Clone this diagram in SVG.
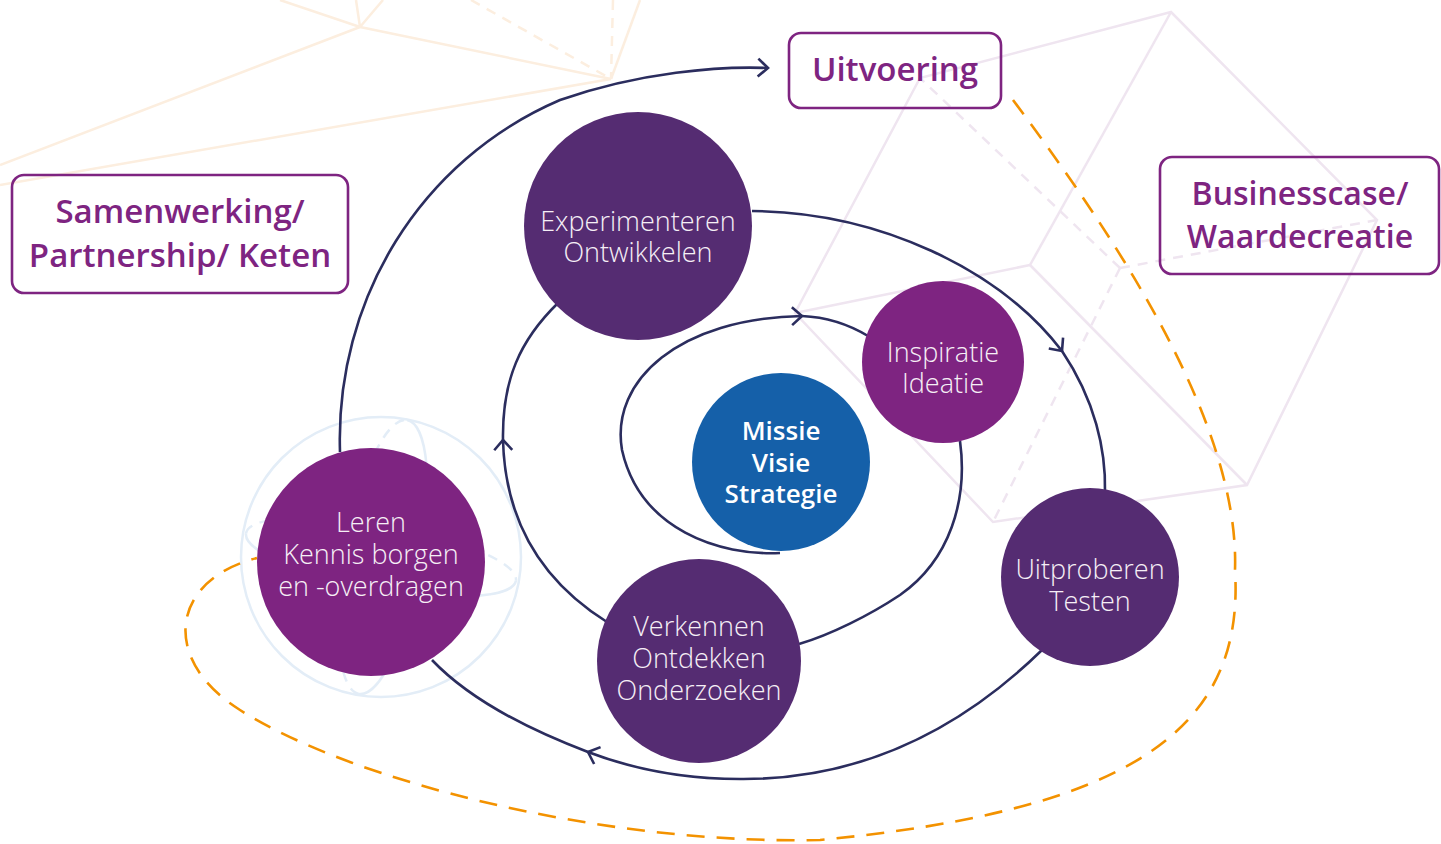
<svg xmlns="http://www.w3.org/2000/svg" width="1441" height="844" viewBox="0 0 1441 844">
<defs>
<style>
.peach{stroke:#FCEEDF;stroke-width:2.5;fill:none}
.lav{stroke:#EFE5F0;stroke-width:2.5;fill:none}
.dash{stroke-dasharray:10 8}
.sph{stroke:#E3EDF7;stroke-width:2.5;fill:none}
.conn{stroke:#2B2D5E;stroke-width:2.6;fill:none}
.orange{stroke:#F39200;stroke-width:2.6;fill:none;stroke-dasharray:18 12}
.box{fill:none;stroke:#7E2481;stroke-width:2.6}
.boxt{font-family:'Open Sans','Noto Sans',sans-serif;font-weight:600;fill:#7E2481;text-anchor:middle}
.nt{font-family:'Open Sans','Noto Sans',sans-serif;font-weight:300;font-size:27px;fill:#F6EFF6;text-anchor:middle}
.bt{font-family:'Open Sans','Noto Sans',sans-serif;font-weight:600;font-size:26px;fill:#FFFFFF;text-anchor:middle}
.dp{fill:#552C72}
.pp{fill:#7E2481}
.bl{fill:#1560A9}
</style>
<marker id="arr" markerUnits="userSpaceOnUse" markerWidth="26" markerHeight="26" viewBox="-13 -13 26 26" refX="0" refY="0" orient="auto">
<path d="M -10 -9 L 0 0 L -10 9" fill="none" stroke="#2B2D5E" stroke-width="2.6"/>
</marker>
</defs>
<rect width="1441" height="844" fill="#FFFFFF"/>
<g id="background">
<g id="peach-wire">
<line class="peach" x1="360" y1="27" x2="611" y2="79"/>
<line class="peach" x1="360" y1="27" x2="0" y2="165"/>
<line class="peach" x1="611" y1="79" x2="0" y2="185"/>
<line class="peach" x1="360" y1="27" x2="280" y2="0"/>
<line class="peach" x1="360" y1="27" x2="356" y2="0"/>
<line class="peach" x1="360" y1="27" x2="383" y2="0"/>
<line class="peach dash" x1="471" y1="0" x2="611" y2="79"/>
<line class="peach dash" x1="613" y1="0" x2="611" y2="79"/>
<line class="peach" x1="640" y1="0" x2="611" y2="79"/>
</g>
<g id="lavender-cube">
<polygon class="lav" points="1171,12 920,78 795,313 993,522 1247,485 1377,220"/>
<line class="lav" x1="1030" y1="265" x2="1171" y2="12"/>
<line class="lav" x1="1030" y1="265" x2="795" y2="313"/>
<line class="lav" x1="1030" y1="265" x2="1247" y2="485"/>
<line class="lav dash" x1="1120" y1="268" x2="920" y2="78"/>
<line class="lav dash" x1="1120" y1="268" x2="993" y2="522"/>
<line class="lav dash" x1="1120" y1="268" x2="1377" y2="220"/>
</g>
<g id="sphere">
<circle class="sph" cx="381" cy="557" r="140"/>
<g transform="translate(381,557) rotate(10)">
<path class="sph" d="M 137 0 A 137 32 0 0 1 -137 0"/>
<path class="sph dash" d="M -137 0 A 137 32 0 0 1 137 0"/>
</g>
<g transform="translate(383,557) rotate(10)">
<path class="sph" d="M 0 -139 A 38 139 0 0 1 0 139"/>
<path class="sph dash" d="M 0 139 A 38 139 0 0 1 0 -139"/>
</g>
</g>
</g>
<g id="connectors">
<path class="orange" d="M 1013 100 C 1110 230, 1240 420, 1235 570 C 1245 730, 1130 810, 820 840 C 600 845, 350 780, 240 710 C 160 660, 170 580, 257 558"/>
<path class="conn" d="M 340 452 C 335 300, 420 160, 560 100 C 640 72, 720 66, 768 68" marker-end="url(#arr)"/>
<path class="conn" d="M 752 211 C 880 212, 1000 270, 1062 351" marker-end="url(#arr)"/>
<path class="conn" d="M 1062 351 C 1095 400, 1106 450, 1105 492"/>
<path class="conn" d="M 1042 650 C 960 730, 860 780, 740 779 C 680 779, 630 768, 588 752" marker-end="url(#arr)"/>
<path class="conn" d="M 588 752 C 530 730, 470 700, 432 660"/>
<path class="conn" d="M 607 622 C 540 580, 505 520, 503 440" marker-end="url(#arr)"/>
<path class="conn" d="M 503 440 C 502 380, 520 340, 558 303"/>
<path class="conn" d="M 780 553 C 720 556, 640 530, 622 450 C 610 380, 680 318, 802 316" marker-end="url(#arr)"/>
<path class="conn" d="M 802 316 C 825 317, 848 324, 868 336"/>
<path class="conn" d="M 960 441 C 968 500, 950 560, 900 595 C 870 615, 830 635, 799 644"/>
</g>
<g id="node-experimenteren">
<circle class="dp" cx="638" cy="226" r="114"/>
<text class="nt" x="638" y="231">Experimenteren</text>
<text class="nt" x="638" y="262">Ontwikkelen</text>
</g>
<g id="node-inspiratie">
<circle class="pp" cx="943" cy="362" r="81"/>
<text class="nt" x="943" y="362">Inspiratie</text>
<text class="nt" x="943" y="393">Ideatie</text>
</g>
<g id="node-missie">
<circle class="bl" cx="781" cy="462" r="89"/>
<text class="bt" x="781" y="440">Missie</text>
<text class="bt" x="781" y="472">Visie</text>
<text class="bt" x="781" y="503">Strategie</text>
</g>
<g id="node-uitproberen">
<circle class="dp" cx="1090" cy="577" r="89"/>
<text class="nt" x="1090" y="579">Uitproberen</text>
<text class="nt" x="1090" y="611">Testen</text>
</g>
<g id="node-verkennen">
<circle class="dp" cx="699" cy="661" r="102"/>
<text class="nt" x="699" y="636">Verkennen</text>
<text class="nt" x="699" y="668">Ontdekken</text>
<text class="nt" x="699" y="700">Onderzoeken</text>
</g>
<g id="node-leren">
<circle class="pp" cx="371" cy="562" r="114"/>
<text class="nt" x="371" y="532">Leren</text>
<text class="nt" x="371" y="564">Kennis borgen</text>
<text class="nt" x="371" y="596">en -overdragen</text>
</g>
<g id="box-uitvoering">
<rect class="box" x="789" y="33" width="212" height="75" rx="12"/>
<text class="boxt" x="895" y="81" font-size="33">Uitvoering</text>
</g>
<g id="box-samenwerking">
<rect class="box" x="12" y="175" width="336" height="118" rx="12"/>
<text class="boxt" x="180" y="223" font-size="33">Samenwerking/</text>
<text class="boxt" x="180" y="267" font-size="33">Partnership/ Keten</text>
</g>
<g id="box-businesscase">
<rect class="box" x="1160" y="157" width="279" height="117" rx="12"/>
<text class="boxt" x="1300" y="205" font-size="32">Businesscase/</text>
<text class="boxt" x="1300" y="248" font-size="32">Waardecreatie</text>
</g>
</svg>
